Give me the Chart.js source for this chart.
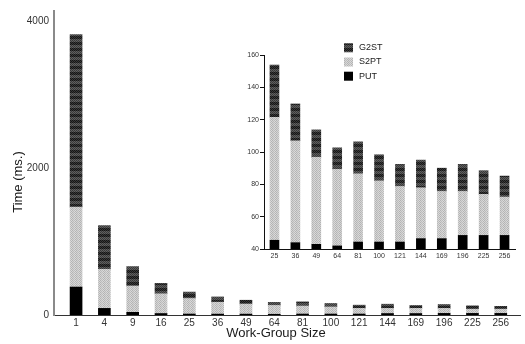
<!DOCTYPE html>
<html>
<head>
<meta charset="utf-8">
<script src="https://cdn.jsdelivr.net/npm/chart.js@4/dist/chart.umd.min.js"></script>
<style>
  html, body { margin: 0; padding: 0; background: #fff; }
  #wrap { position: relative; width: 525px; height: 344px; }
  #mainChart { position: absolute; left: 0; top: 0; }
  #insetChart { position: absolute; left: 220px; top: 30px; }
</style>
</head>
<body>
<div id="wrap">
  <canvas id="mainChart" width="525" height="344"></canvas>
  <canvas id="insetChart" width="300" height="235"></canvas>
</div>
<script>
// Work-group sizes (x categories)
const groupSizes = ['1', '4', '9', '16', '25', '36', '49', '64', '81', '100', '121', '144', '169', '196', '225', '256'];

// Full range, time per phase in ms (stacked: PUT, S2PT, G2ST)
const putMain  = [380, 90, 36, 20, 13, 12, 12, 10, 13, 13, 13, 20, 20, 22, 22, 22];
const s2ptMain = [1086, 531, 357, 268, 211, 162, 135, 120, 108, 98, 77, 70, 70, 68, 58, 58];
const g2stMain = [2346, 595, 264, 141, 88, 71, 54, 40, 57, 46, 44, 57, 40, 53, 45, 37];
const timeTicks = [0, 2000, 4000];

// Detail view for sizes 25..256
const insetSizes = groupSizes.slice(4);
const putInset  = [45.4, 43.9, 42.9, 41.9, 44.3, 44.3, 44.3, 46.4, 46.4, 48.4, 48.4, 48.4];
const s2ptInset = [76.1, 63.0, 53.9, 47.5, 42.2, 37.9, 34.4, 31.5, 29.2, 27.2, 25.4, 23.7];
const g2stInset = [32.3, 22.8, 16.9, 13.2, 19.8, 16.1, 13.6, 17.1, 14.4, 16.7, 14.6, 13.0];
const insetTicks = [40, 60, 80, 100, 120, 140, 160];

const FONT = "'Liberation Sans', Arial, Helvetica, sans-serif";

// Fill patterns
function tilePattern(w, h, colorAt) {
  const c = document.createElement('canvas');
  c.width = w; c.height = h;
  const g = c.getContext('2d');
  for (let y = 0; y < h; y++) {
    for (let x = 0; x < w; x++) {
      g.fillStyle = colorAt(x, y);
      g.fillRect(x, y, 1, 1);
    }
  }
  return g.createPattern(c, 'repeat');
}
function makePatterns() {
  const g2st = tilePattern(4, 6, (x, y) => {
    const odd = (x + y) % 2 === 1;
    if (y < 3) return odd ? '#3a3a3a' : '#151515';
    return odd ? '#606060' : '#383838';
  });
  const cols = ['#b3b3b3', '#d4d4d4', '#bcbcbc', '#dadada'];
  const s2pt = tilePattern(4, 4, (x, y) => cols[(x + (y % 2)) % 4]);
  return { g2st, s2pt, put: '#000000' };
}
const fills = makePatterns();

function stackSets(put, s2pt, g2st, toPoint) {
  return [
    { label: 'PUT',  data: put.map(toPoint),  backgroundColor: fills.put },
    { label: 'S2PT', data: s2pt.map(toPoint), backgroundColor: fills.s2pt },
    { label: 'G2ST', data: g2st.map(toPoint), backgroundColor: fills.g2st }
  ];
}

// Axis captions drawn at fixed spots on the main chart
const captionPlugin = {
  id: 'captions',
  afterDraw(chart) {
    const ctx = chart.ctx;
    ctx.save();
    ctx.fillStyle = '#1a1a1a';
    ctx.font = '13px ' + FONT;
    ctx.textAlign = 'center';
    ctx.textBaseline = 'middle';
    ctx.fillText('Work-Group Size', 276, 333);
    ctx.translate(18, 182);
    ctx.rotate(-Math.PI / 2);
    ctx.fillText('Time (ms.)', 0, 0);
    ctx.restore();
  }
};

// Main chart: linear x positions so the first bar sits close to the y axis
new Chart(document.getElementById('mainChart'), {
  type: 'bar',
  data: {
    datasets: stackSets(putMain, s2ptMain, g2stMain, (v, i) => ({ x: i, y: v }))
      .map(d => Object.assign(d, { barThickness: 12 }))
  },
  options: {
    responsive: false,
    animation: false,
    layout: { padding: { top: 7, right: 5, left: 0, bottom: 0 } },
    plugins: { legend: { display: false }, tooltip: { enabled: false } },
    scales: {
      x: {
        type: 'linear',
        stacked: true,
        min: -0.265,
        max: 15.165,
        afterBuildTicks: s => { s.ticks = groupSizes.map((_, i) => ({ value: i })); },
        afterFit: s => { s.height = 29; },
        grid: { display: false, drawTicks: false },
        border: { display: true, color: '#333333', width: 1 },
        ticks: {
          padding: 2,
          autoSkip: false,
          maxRotation: 0,
          color: '#333333',
          font: { family: FONT, size: 10 },
          callback: v => groupSizes[v]
        }
      },
      y: {
        stacked: true,
        min: 0,
        max: 4134,
        afterBuildTicks: s => { s.ticks = timeTicks.map(v => ({ value: v })); },
        afterFit: s => { s.width = 54; },
        grid: { display: false, drawTicks: false },
        border: { display: true, color: '#8a8a8a', width: 2 },
        ticks: {
          padding: 5,
          color: '#333333',
          font: { family: FONT, size: 10 },
          callback: v => String(v)
        }
      }
    }
  },
  plugins: [captionPlugin]
});

// Legend for the detail view, top entry first
const insetLegend = {
  id: 'insetLegend',
  afterDraw(chart) {
    const ctx = chart.ctx;
    const sets = chart.data.datasets.slice().reverse();
    ctx.save();
    ctx.font = '9px ' + FONT;
    ctx.textBaseline = 'middle';
    ctx.textAlign = 'left';
    sets.forEach((ds, k) => {
      const cy = 17.8 + k * 14.2;
      ctx.fillStyle = ds.backgroundColor;
      ctx.fillRect(124, cy - 4.5, 9, 9);
      ctx.fillStyle = '#1a1a1a';
      ctx.fillText(ds.label, 139, cy);
    });
    ctx.restore();
  }
};

new Chart(document.getElementById('insetChart'), {
  type: 'bar',
  data: {
    labels: insetSizes,
    datasets: stackSets(putInset, s2ptInset, g2stInset, v => v)
      .map(d => Object.assign(d, { barThickness: 9 }))
  },
  options: {
    responsive: false,
    animation: false,
    layout: { padding: { top: 25, right: 5, left: 0, bottom: 0 } },
    plugins: { legend: { display: false }, tooltip: { enabled: false } },
    scales: {
      x: {
        stacked: true,
        offset: true,
        afterFit: s => { s.height = 16; },
        grid: { display: false, drawTicks: false },
        border: { display: true, color: '#111111', width: 1 },
        ticks: {
          padding: 3,
          autoSkip: false,
          maxRotation: 0,
          color: '#333333',
          font: { family: FONT, size: 7 }
        }
      },
      y: {
        stacked: true,
        min: 40,
        max: 160,
        afterBuildTicks: s => { s.ticks = insetTicks.map(v => ({ value: v })); },
        afterFit: s => { s.width = 44; },
        grid: { display: true, drawOnChartArea: false, drawTicks: true, tickLength: 4, color: '#111111' },
        border: { display: true, color: '#111111', width: 1 },
        ticks: {
          padding: 1,
          color: '#333333',
          font: { family: FONT, size: 7 }
        }
      }
    }
  },
  plugins: [insetLegend]
});
</script>
</body>
</html>
